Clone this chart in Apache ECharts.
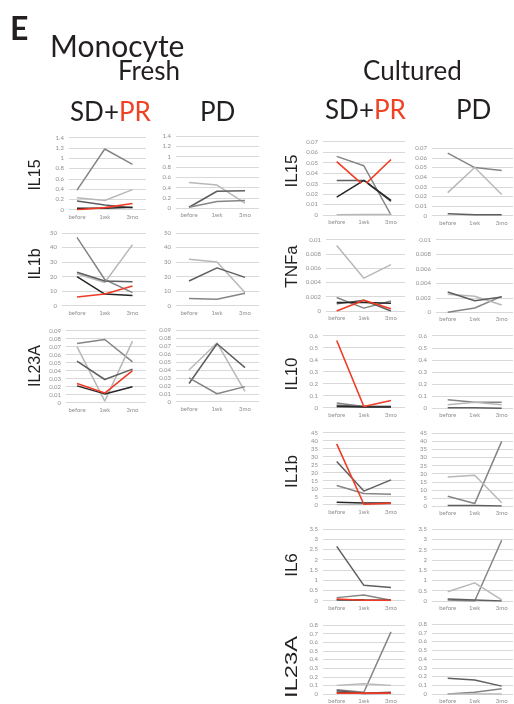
<!DOCTYPE html>
<html><head><meta charset="utf-8">
<script src="https://cdn.jsdelivr.net/npm/echarts@6/dist/echarts.min.js"></script>
<style>html,body{margin:0;padding:0;background:#fff}#c{width:514px;height:704px}</style>
</head><body><div id="c"></div>
<script>
const categories = ['before', '1wk', '3mo'];

// ---- Fresh (values per series: before, 1wk, 3mo) ----
const freshIL15_SDPR = [[0.38,1.18,0.88],[0.23,0.18,0.39],[0.17,0.09,0.04],[0.03,0.03,0.05],[0.00,0.04,0.12]];
const freshIL15_PD   = [[0.50,0.45,0.10],[0.02,0.33,0.34],[0.02,0.13,0.15]];
const freshIL1b_SDPR = [[47,18,9],[22,16,42],[23,17,16.5],[20,8,7],[6,8,13.5]];
const freshIL1b_PD   = [[32,30,9],[17,26,19.5],[5,4.5,8.5]];
const freshIL23A_SDPR= [[0.074,0.079,0.051],[0.070,0.002,0.077],[0.052,0.029,0.042],[0.021,0.011,0.020],[0.024,0.012,0.040]];
const freshIL23A_PD  = [[0.040,0.074,0.013],[0.023,0.073,0.043],[0.030,0.010,0.019]];

// ---- Cultured ----
const cultIL15_SDPR = [[0.056,0.047,0.000],[0.0003,0.0005,0.0005],[0.033,0.033,0.013],[0.017,0.033,0.014],[0.051,0.028,0.053]];
const cultIL15_PD   = [[0.065,0.050,0.047],[0.024,0.050,0.022],[0.002,0.001,0.001]];
const cultTNFa_SDPR = [[0.0019,0.0004,0.0014],[0.0092,0.0046,0.0065],[0.0010,0.0015,0.0000],[0.0012,0.0012,0.0011],[0.0000,0.0015,0.0003]];
const cultTNFa_PD   = [[0.0000,0.0006,0.0022],[0.0025,0.0022,0.0010],[0.0028,0.0016,0.0021]];
const cultIL10_SDPR = [[0.04,0.01,0.01],[0.005,0.005,0.005],[0.02,0.01,0.01],[0.01,0.005,0.005],[0.56,0.01,0.06]];
const cultIL10_PD   = [[0.07,0.05,0.05],[0.03,0.05,0.03],[0.005,0.005,0.0]];
const cultIL1b_SDPR = [[12,7,6.5],[0,0,0.5],[27,8.5,15.5],[1.5,1,1],[38,0.3,1]];
const cultIL1b_PD   = [[6,1.5,40],[18,19,2],[0.3,0.3,0]];
const cultIL6_SDPR  = [[0.15,0.28,0.02],[0.02,0.02,0.01],[2.65,0.75,0.65],[0.05,0.03,0.02],[0.08,0.02,0.02]];
const cultIL6_PD    = [[0.05,0.0,2.95],[0.45,0.88,0.05],[0.1,0.05,0.0]];
const cultIL23A_SDPR= [[0.05,0.02,0.72],[0.10,0.12,0.10],[0.04,0.01,0.02],[0.02,0.005,0.01],[0.01,0.01,0.01]];
const cultIL23A_PD  = [[0.0,0.02,0.06],[0.0,0.0,0.0],[0.18,0.16,0.09]];

// axis ranges (max, interval)
const yRanges = {
  fIL15:[1.4,0.2], fIL1b:[50,10], fIL23A:[0.09,0.01],
  cIL15:[0.07,0.01], cTNFa:[0.01,0.002], cIL10:[0.6,0.1], cIL1b:[45,5], cIL6:[3.5,0.5], cIL23A:[0.8,0.1]
};

// ---- layout / style ----
const COL = {M:'#858585', L:'#b8b8b8', D:'#5e5e5e', K:'#262626', R:'#f03c26'};
const SD5 = ['M','L','D','K','R'];
const PD3 = ['M','L','D'];
const fSD = {gl:66, gr:146, x0:77, x2:132.5};
const fPD = {gl:176, gr:259, x0:189, x2:245};
const cSD = {gl:323, gr:405, x0:336.7, x2:391};
const cPD = {gl:432, gr:513, x0:447.7, x2:501.7};
const panels = [
  {d:freshIL15_SDPR, c:['M','L','D','K','R'], r:'fIL15', col:Object.assign({}, fSD, {gl:69}), top:137.7, bot:209.7},
  {d:freshIL15_PD, c:['L','D','M'], r:'fIL15', col:fPD, top:136, bot:208.3},
  {d:freshIL1b_SDPR, c:SD5, r:'fIL1b', col:Object.assign({}, fSD, {gl:62}), top:233, bot:305.7},
  {d:freshIL1b_PD, c:['L','D','M'], r:'fIL1b', col:fPD, top:233, bot:305.7},
  {d:freshIL23A_SDPR, c:SD5, r:'fIL23A', col:fSD, top:330.7, bot:402.7},
  {d:freshIL23A_PD, c:['L','D','M'], r:'fIL23A', col:fPD, top:330.3, bot:401.7},
  {d:cultIL15_SDPR, c:SD5, r:'cIL15', col:cSD, top:141.7, bot:215, marker:[4,1]},
  {d:cultIL15_PD, c:PD3, r:'cIL15', col:cPD, top:148.3, bot:215.7},
  {d:cultTNFa_SDPR, c:SD5, r:'cTNFa', col:Object.assign({}, cSD, {gl:326}), top:239.7, bot:311},
  {d:cultTNFa_PD, c:PD3, r:'cTNFa', col:Object.assign({}, cPD, {gl:436}), top:239.7, bot:312.3},
  {d:cultIL10_SDPR, c:SD5, r:'cIL10', col:cSD, top:335.7, bot:407.7},
  {d:cultIL10_PD, c:PD3, r:'cIL10', col:cPD, top:335.7, bot:408.3},
  {d:cultIL1b_SDPR, c:SD5, r:'cIL1b', col:cSD, top:432.7, bot:504.7},
  {d:cultIL1b_PD, c:PD3, r:'cIL1b', col:cPD, top:433.3, bot:506},
  {d:cultIL6_SDPR, c:SD5, r:'cIL6', col:cSD, top:529, bot:600.7},
  {d:cultIL6_PD, c:PD3, r:'cIL6', col:cPD, top:529, bot:601},
  {d:cultIL23A_SDPR, c:SD5, r:'cIL23A', col:cSD, top:625, bot:697.7},
  {d:cultIL23A_PD, c:PD3, r:'cIL23A', col:cPD, top:624, bot:696}
];

const grid = [], xAxis = [], yAxis = [], series = [];
const fmt = v => String(parseFloat(v.toFixed(6)));
panels.forEach((p, i) => {
  const L = p.col;
  const step = (L.x2 - L.x0) / 2;
  grid.push({left:L.gl, top:p.top, width:L.gr - L.gl, height:p.bot - p.top, containLabel:false});
  xAxis.push({type:'value', gridIndex:i, min:-(L.x0 - L.gl)/step, max:2 + (L.gr - L.x2)/step,
    axisLine:{show:false}, axisTick:{show:false}, splitLine:{show:false},
    axisLabel:{customValues:[0,1,2], formatter:v => categories[Math.round(v)], fontSize:6, color:'#8f8f8f', margin:4, fontFamily:'Lato'}});
  const yr = yRanges[p.r];
  yAxis.push({type:'value', gridIndex:i, min:0, max:yr[0], interval:yr[1],
    axisLine:{show:false}, axisTick:{show:false},
    splitLine:{lineStyle:{color:'#d9d9d9', width:1}},
    axisLabel:{formatter:fmt, fontSize:6, color:'#8f8f8f', margin:5, fontFamily:'Lato'}});
  p.d.forEach((vals, k) => {
    const color = COL[p.c[k]];
    const data = vals.map((v, j) => {
      if (p.marker && p.marker[0] === k && p.marker[1] === j)
        return {value:[j, v], symbol:'emptyCircle', symbolSize:5, itemStyle:{color:'#fff', borderColor:color, borderWidth:1}};
      return [j, v];
    });
    series.push({type:'line', xAxisIndex:i, yAxisIndex:i, data, symbol:'none', showSymbol:true,
      lineStyle:{color, width: p.c[k] === 'R' ? 1.6 : 1.5}, itemStyle:{color}, silent:true, animation:false, z: p.c[k]==='R'?3:2});
  });
});

const HF = 'Lato, "Open Sans", sans-serif';
const RF = '"Liberation Sans", Arial, sans-serif';
const mctx = document.createElement('canvas').getContext('2d');
function measure(text, font) { mctx.font = font; return mctx.measureText(text).width; }
function t(text, x, y, size, opts) {
  opts = opts || {};
  return {type:'text', x, y, rotation: opts.rot || 0, scaleX: opts.sx || 1, scaleY: 1,
    style:{text, fill: opts.fill || '#231f20', font:(opts.bold?'bold ':'') + size + 'px ' + (opts.family || HF),
      textAlign: opts.align || 'left', textVerticalAlign:'middle'}};
}
function sdpr(x, y, size) {
  const w = measure('SD+', size + 'px ' + HF);
  return [t('SD+', x, y, size), t('PR', x + w, y, size, {fill:'#ef4123'})];
}
const R = Math.PI / 2;
const graphics = [
  t('E', 10, 30, 32, {bold:true}),
  t('Monocyte', 50, 47, 30),
  t('Fresh', 118, 72, 26),
  t('Cultured', 363, 72, 26),
  ...sdpr(70, 113, 26),
  t('PD', 200, 112.5, 26),
  ...sdpr(325, 110.5, 26),
  t('PD', 456, 110.5, 26),
  t('IL15', 36, 175, 16, {rot:R, align:'center', family:RF}),
  t('IL1b', 36, 264, 16, {rot:R, align:'center', family:RF}),
  t('IL23A', 36, 366, 16, {rot:R, align:'center', family:RF}),
  t('IL15', 292, 171, 17, {rot:R, align:'center', family:RF}),
  t('TNFa', 292, 266.5, 17, {rot:R, align:'center', family:RF}),
  t('IL10', 292, 374, 17, {rot:R, align:'center', family:RF}),
  t('IL1b', 292, 471.5, 17, {rot:R, align:'center', family:RF}),
  t('IL6', 292, 565, 17, {rot:R, align:'center', family:RF}),
  t('IL23A', 292, 667, 17, {rot:R, align:'center', family:RF, sx:1.4})
];

const chart = echarts.init(document.getElementById('c'), null, {renderer:'canvas'});
chart.setOption({animation:false, backgroundColor:'#fff', grid, xAxis, yAxis, series, graphic:graphics});
</script>
</body></html>
